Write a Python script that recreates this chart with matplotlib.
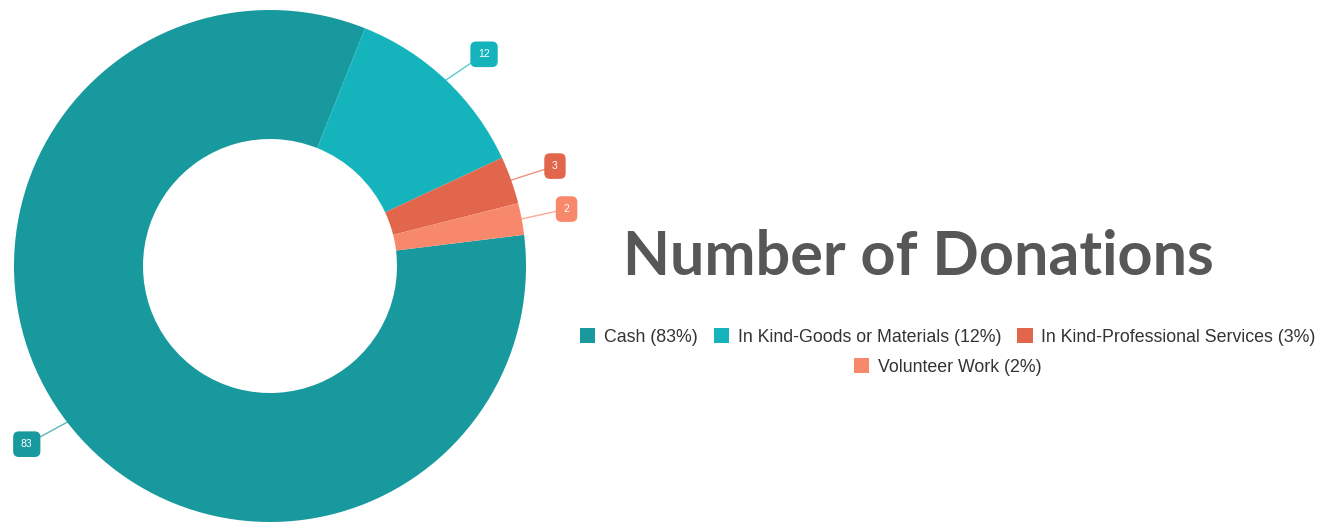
import matplotlib.pyplot as plt
import numpy as np
from matplotlib.patches import Patch

categories = ['Cash', 'In Kind-Goods or Materials', 'In Kind-Professional Services', 'Volunteer Work']
counts = [83, 12, 3, 2]
colors = ['#17999e', '#15b4bd', '#e2664b', '#f8886b']

W, H = 1322, 523
fig = plt.figure(figsize=(W / 100, H / 100), dpi=100)
ax = fig.add_axes([0, 0, 1, 1])

# donut drawn in pixel units
cx, cy = 270, H - 266
r_out, r_in = 256, 127
wedges, _ = ax.pie(counts, colors=colors, startangle=7, counterclock=False,
                   radius=r_out, center=(cx, cy),
                   wedgeprops=dict(width=r_out - r_in, linewidth=0))
ax.set_xlim(0, W)
ax.set_ylim(0, H)
ax.set_aspect('equal')
ax.axis('off')

# value callouts with leader lines
for w, val, col in zip(wedges, counts, colors):
    deg = ((w.theta1 + w.theta2) / 2 + 180) % 360 - 180
    mid = np.deg2rad(deg)
    px, py = cx + r_out * np.cos(mid), cy + r_out * np.sin(mid)
    if abs(deg) <= 90:
        ang = np.deg2rad(0.6 * deg + 6 * np.sign(deg))
    else:
        below = 180 - abs(deg)
        ang = np.deg2rad(np.sign(deg) * (180 - (0.6 * below + 6)))
    lx, ly = px + 46 * np.cos(ang), py + 46 * np.sin(ang)
    ax.plot([px, lx], [py, ly], color=col, lw=1, alpha=0.7, zorder=3)
    ax.text(lx, ly, str(val), ha='center', va='center', fontsize=7.5,
            color='white', family='Liberation Sans', zorder=4,
            bbox=dict(boxstyle='round,pad=0.75,rounding_size=0.55', fc=col, ec='none'))

fig.text(918 / W, 1 - 257 / H, 'Number of Donations', ha='center', va='center',
         fontsize=44, fontweight='bold', color='#575757', family='Lato')

handles = [Patch(facecolor=c, edgecolor='none') for c in colors]
labels = [f'{c} ({v}%)' for c, v in zip(categories, counts)]
leg_kw = dict(frameon=False, handlelength=0.85, handleheight=0.85, handletextpad=0.5,
              columnspacing=0.9, borderpad=0, labelcolor='#333333',
              prop=dict(family='Liberation Sans', size=12.8))
fig.legend(handles[:3], labels[:3], ncol=3, loc='center',
           bbox_to_anchor=(948 / W, 1 - 337 / H), **leg_kw)
fig.legend(handles[3:], labels[3:], ncol=1, loc='center',
           bbox_to_anchor=(948 / W, 1 - 367 / H), **leg_kw)

fig.savefig('out.png', dpi=100)
